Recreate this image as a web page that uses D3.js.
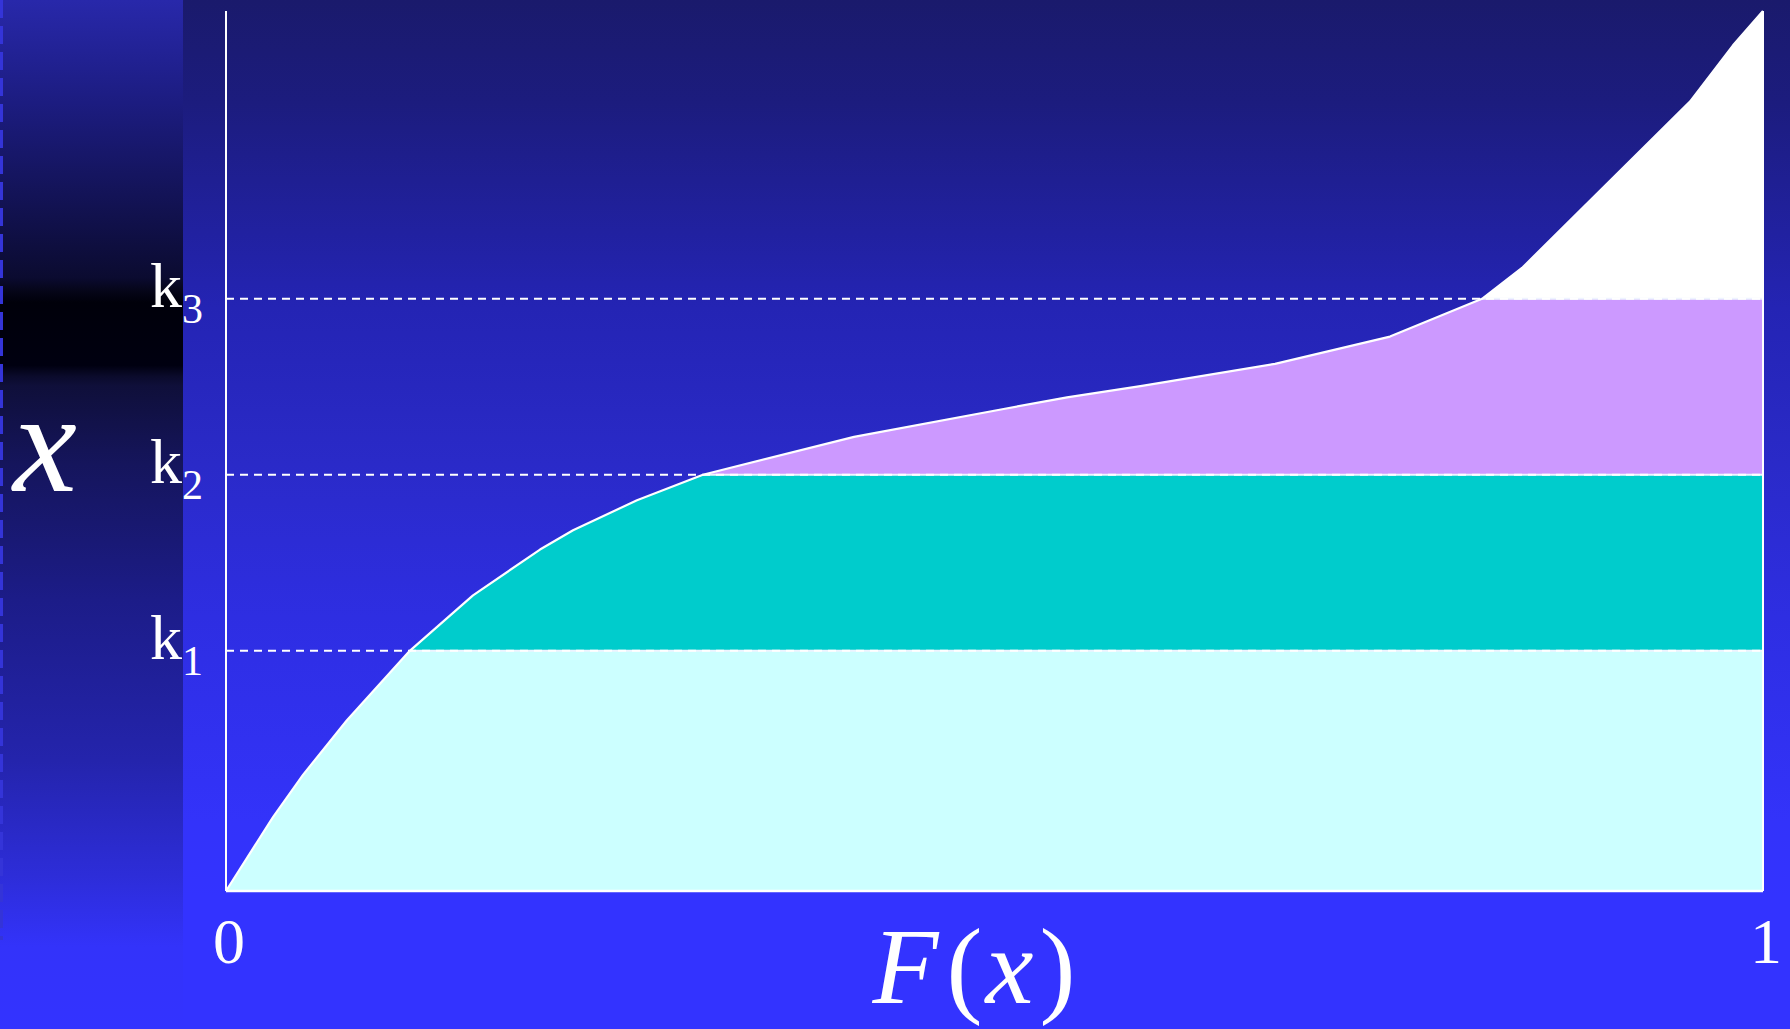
<!DOCTYPE html>
<html>
<head>
<meta charset="utf-8">
<script src="https://cdn.jsdelivr.net/npm/d3@7"></script>
<style>
    body { margin: 0; background: #3333ff; }
    svg { display: block; }
    text { font-family: "Liberation Serif", "Times New Roman", serif; fill: #ffffff; }
</style>
</head>
<body>
<svg id="chart"></svg>
<script>
// F(x) values along the curve and the matching x values
var cdfF = [0, 0.0306, 0.0501, 0.0787, 0.1190, 0.1607, 0.2043, 0.2258, 0.2674, 0.3103,
    0.4086, 0.5068, 0.5472, 0.5960, 0.6825, 0.7573, 0.8172, 0.8432, 0.9525, 0.9805, 1];
var cdfX = [0, 0.84, 1.32, 1.94, 2.72, 3.36, 3.88, 4.10, 4.44, 4.73,
    5.16, 5.48, 5.61, 5.74, 5.99, 6.30, 6.73, 7.08, 8.97, 9.61, 10];

// thresholds k1, k2, k3
var kNames = ["1", "2", "3"];
var kValues = [2.73, 4.73, 6.73];
var bandColors = ["#ccffff", "#00cccc", "#cc99ff", "#ffffff"];
var xTicks = [0, 1];

function draw(w, h, svg) {
    svg.attr("width", w).attr("height", h);
    var defs = svg.append("defs");

    var x = d3.scaleLinear().domain([0, 1]).range([226, 1763]);
    var y = d3.scaleLinear().domain([0, 10]).range([891, 11]);

    // background gradients
    var bg = defs.append("linearGradient").attr("id", "bg")
        .attr("x1", 0).attr("y1", 0).attr("x2", 0).attr("y2", 1);
    [[0, "#1a1a6c"], [0.1, "#1c1c7e"], [0.3, "#2424b4"], [0.45, "#2a2ac8"],
        [0.6, "#2e2ee2"], [0.8, "#3333fa"], [0.87, "#3333ff"], [1, "#3333ff"]]
        .forEach(function(s) {
            bg.append("stop").attr("offset", s[0]).attr("stop-color", s[1]);
        });

    var strip = defs.append("linearGradient").attr("id", "strip")
        .attr("x1", 0).attr("y1", 0).attr("x2", 0).attr("y2", 1);
    [[0, "#2828aa"], [0.1, "#1c1c80"], [0.2, "#121252"], [0.27, "#0b0b30"],
        [0.283, "#050518"], [0.294, "#00000a"], [0.355, "#000010"], [0.366, "#0b0b2c"],
        [0.375, "#0f0f3a"], [0.45, "#15155c"], [0.583, "#1c1c88"], [0.739, "#2424ac"],
        [0.85, "#2d2dd8"], [0.92, "#3333fa"], [1, "#3333ff"]]
        .forEach(function(s) {
            strip.append("stop").attr("offset", s[0]).attr("stop-color", s[1]);
        });

    svg.append("rect").attr("width", w).attr("height", h).attr("fill", "url(#bg)");
    svg.append("rect").attr("width", 183).attr("height", h).attr("fill", "url(#strip)");
    svg.append("line")
        .attr("x1", 1.5).attr("x2", 1.5).attr("y1", 0).attr("y2", 940)
        .attr("stroke", "#3434d8").attr("stroke-width", 3)
        .attr("stroke-dasharray", "18,8");

    var data = cdfF.map(function(f, i) { return { F: f, v: cdfX[i] }; });

    var area = d3.area()
        .x(function(d) { return x(d.F); })
        .y0(y(0))
        .y1(function(d) { return y(d.v); });

    var line = d3.line()
        .x(function(d) { return x(d.F); })
        .y(function(d) { return y(d.v); });

    // one band per interval between thresholds, clipped from the area under the curve
    var edges = [0].concat(kValues).concat([10]);
    defs.append("clipPath").attr("id", "under")
        .append("path").attr("d", area(data));

    var g = svg.append("g");
    d3.range(4).forEach(function(i) {
        defs.append("clipPath").attr("id", "band" + i)
            .append("rect")
            .attr("x", x(0)).attr("width", x(1) - x(0))
            .attr("y", y(edges[i + 1])).attr("height", y(edges[i]) - y(edges[i + 1]));
        g.append("path")
            .attr("d", area(data))
            .attr("fill", bandColors[i])
            .attr("clip-path", "url(#band" + i + ")");
    });

    // soft white boundaries between bands
    g.selectAll(".bound")
        .data(kValues)
        .enter()
        .append("line")
        .attr("class", "bound")
        .attr("clip-path", "url(#under)")
        .attr("x1", x(0)).attr("x2", x(1))
        .attr("y1", function(d) { return y(d); })
        .attr("y2", function(d) { return y(d); })
        .attr("stroke", "#eef4ff").attr("stroke-width", 2);

    // dashed threshold lines
    g.selectAll(".klines")
        .data(kValues)
        .enter()
        .append("line")
        .attr("class", "klines")
        .attr("x1", x(0)).attr("x2", x(1))
        .attr("y1", function(d) { return y(d); })
        .attr("y2", function(d) { return y(d); })
        .attr("stroke", "#ffffff").attr("stroke-width", 2)
        .attr("stroke-dasharray", "8,6");

    // curve
    g.append("path")
        .attr("d", line(data))
        .attr("fill", "none")
        .attr("stroke", "#ffffff").attr("stroke-width", 2.2)
        .attr("stroke-linejoin", "round");

    // axes frame
    g.append("line")
        .attr("x1", x(0)).attr("x2", x(0)).attr("y1", y(10)).attr("y2", y(0))
        .attr("stroke", "#ffffff").attr("stroke-width", 2);
    g.append("line")
        .attr("x1", x(0)).attr("x2", x(1)).attr("y1", y(0)).attr("y2", y(0))
        .attr("stroke", "#ffffff").attr("stroke-width", 2.5);
    g.append("line")
        .attr("x1", x(1)).attr("x2", x(1)).attr("y1", y(10)).attr("y2", y(0))
        .attr("stroke", "#ffffff").attr("stroke-width", 2);

    // k labels
    var kl = svg.selectAll(".klabel")
        .data(kValues)
        .enter()
        .append("text")
        .attr("class", "klabel")
        .attr("x", 150)
        .attr("y", function(d) { return y(d) + 8; })
        .style("font-size", "64px");
    kl.append("tspan").text("k");
    kl.append("tspan")
        .attr("dy", 16)
        .style("font-size", "42px")
        .text(function(d, i) { return kNames[i]; });

    // tick labels
    svg.selectAll(".tick")
        .data(xTicks)
        .enter()
        .append("text")
        .attr("class", "tick")
        .attr("x", function(d) { return x(d) + 3; })
        .attr("y", 963)
        .style("text-anchor", "middle")
        .style("font-size", "64px")
        .text(function(d) { return d; });

    // axis titles
    svg.append("text")
        .attr("x", 45).attr("y", 491)
        .style("text-anchor", "middle")
        .style("font-style", "italic")
        .style("font-size", "144px")
        .text("x");

    var ft = svg.append("text")
        .attr("x", x(0.5) - 122).attr("y", 1003)
        .style("font-size", "108px");
    ft.append("tspan").style("font-style", "italic").text("F");
    ft.append("tspan").attr("dx", 8).text("(");
    ft.append("tspan").attr("dx", 3).style("font-style", "italic").text("x");
    ft.append("tspan").attr("dx", 6).text(")");
}

draw(1790, 1029, d3.select("#chart"));
</script>
</body>
</html>
